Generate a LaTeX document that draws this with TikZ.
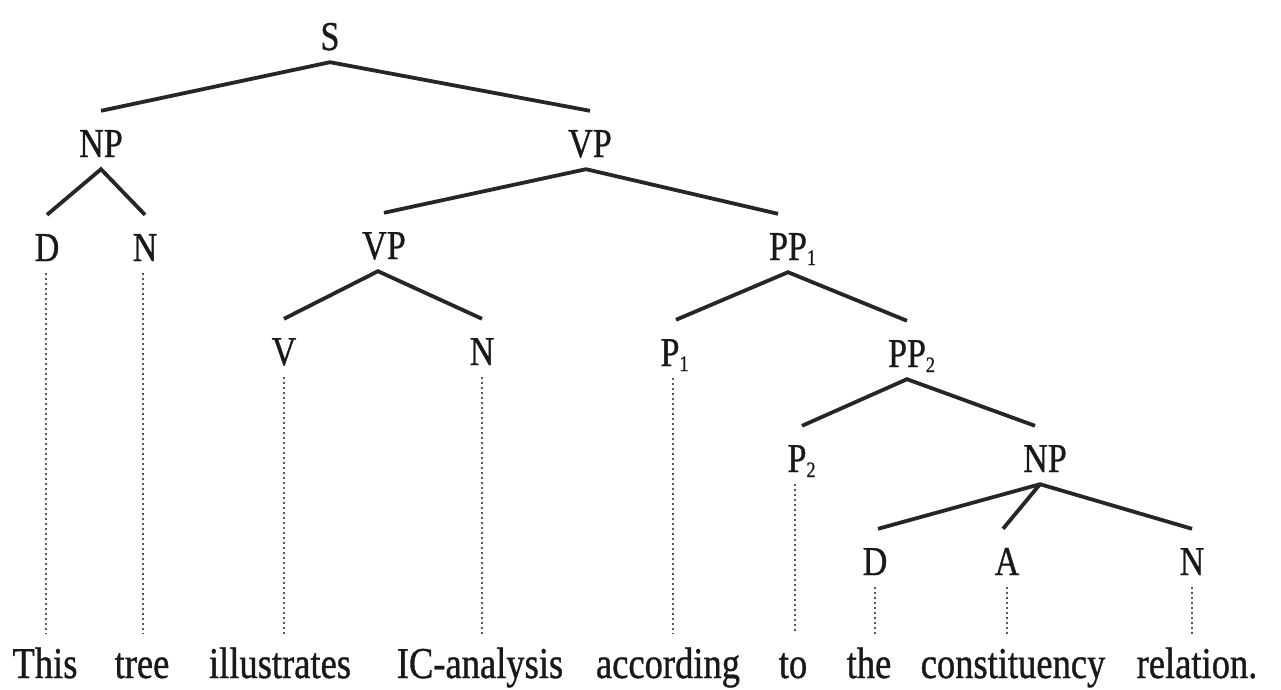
\documentclass[tikz,border=0pt]{standalone}
\usepackage{fontspec}
\setmainfont{Liberation Serif}[FakeStretch=0.83,FakeBold=0.8]
\newcommand\lsub[1]{\rlap{\raisebox{-5pt}{\fontsize{22}{22}\selectfont #1}}}
\tikzset{
  lbl/.style={font=\fontsize{41}{41}\selectfont, anchor=base, text height=34pt, text depth=0pt, inner ysep=12pt, inner xsep=0pt, text=black!90},
  word/.style={font=\fontsize{44}{44}\selectfont, anchor=base, text height=34pt, text depth=0pt, inner ysep=10pt, inner xsep=0pt, text=black!90},
  branch/.style={line width=3.8pt, draw=black!85},
  proj/.style={line width=1.8pt, draw=black!65, dash pattern=on 1.8pt off 3.2pt},
}
\begin{document}
\begin{tikzpicture}[x=1pt,y=-1pt]
\useasboundingbox (0,0) rectangle (1281,689);
% labels
\node[lbl] (s)   at (330,50)  {S};
\node[lbl] (np1) at (101,157) {NP};
\node[lbl] (vp1) at (590,157) {VP};
\node[lbl] (d1)  at (47,261)  {D};
\node[lbl] (n1)  at (145,261) {N};
\node[lbl] (vp2) at (384,259) {VP};
\node[lbl] (pp1) at (788,260) {PP\lsub{1}};
\node[lbl] (v)   at (284,365) {V};
\node[lbl] (n2)  at (482,365) {N};
\node[lbl] (p1)  at (670,366) {P\lsub{1}};
\node[lbl] (pp2) at (907,367) {PP\lsub{2}};
\node[lbl] (p2)  at (797,472) {P\lsub{2}};
\node[lbl] (np2) at (1045,472) {NP};
\node[lbl] (d2)  at (875,575) {D};
\node[lbl] (a)   at (1007,575) {A};
\node[lbl] (n3)  at (1192,575) {N};
% words
\node[word] (w1) at (45,678)   {This};
\node[word] (w2) at (142,678)  {tree};
\node[word] (w3) at (280,678)  {illustrates};
\node[word] (w4) at (480,678)  {IC-analysis};
\node[word] (w5) at (668,678)  {according};
\node[word] (w6) at (793,678)  {to};
\node[word] (w7) at (869,678)  {the};
\node[word] (w8) at (1013,678) {constituency};
\node[word] (w9) at (1197,678) {relation.};
% branches
\draw[branch] (np1.north) -- (s.south) -- (vp1.north);
\draw[branch] (d1.north) -- (np1.south) -- (n1.north);
\draw[branch] (vp2.north) -- ([xshift=-4pt]vp1.south) -- ([xshift=-10pt]pp1.north);
\draw[branch] (v.north) -- ([xshift=-6pt]vp2.south) -- (n2.north);
\draw[branch] ([xshift=6pt]p1.north) -- (pp1.south) -- (pp2.north);
\draw[branch] ([xshift=5pt]p2.north) -- (pp2.south) -- ([xshift=-10pt]np2.north);
\draw[branch] ([xshift=3pt]d2.north) -- ([xshift=-5pt]np2.south) -- (n3.north);
\draw[branch] ([xshift=-5pt]np2.south) -- ([xshift=-4pt]a.north);
% projection lines
\draw[proj] ([xshift=-1pt]d1.south) -- ([xshift=-1pt]d1.south |- w1.north);
\draw[proj] ([xshift=-2pt]n1.south) -- ([xshift=-2pt]n1.south |- w2.north);
\draw[proj] (v.south) -- (v.south |- w3.north);
\draw[proj] (n2.south) -- (n2.south |- w4.north);
\draw[proj] ([xshift=3pt]p1.south) -- ([xshift=3pt]p1.south |- w5.north);
\draw[proj] ([xshift=-2pt]p2.south) -- ([xshift=-2pt]p2.south |- w6.north);
\draw[proj] (d2.south) -- (d2.south |- w7.north);
\draw[proj] (a.south) -- (a.south |- w8.north);
\draw[proj] (n3.south) -- (n3.south |- w9.north);
\end{tikzpicture}
\end{document}
